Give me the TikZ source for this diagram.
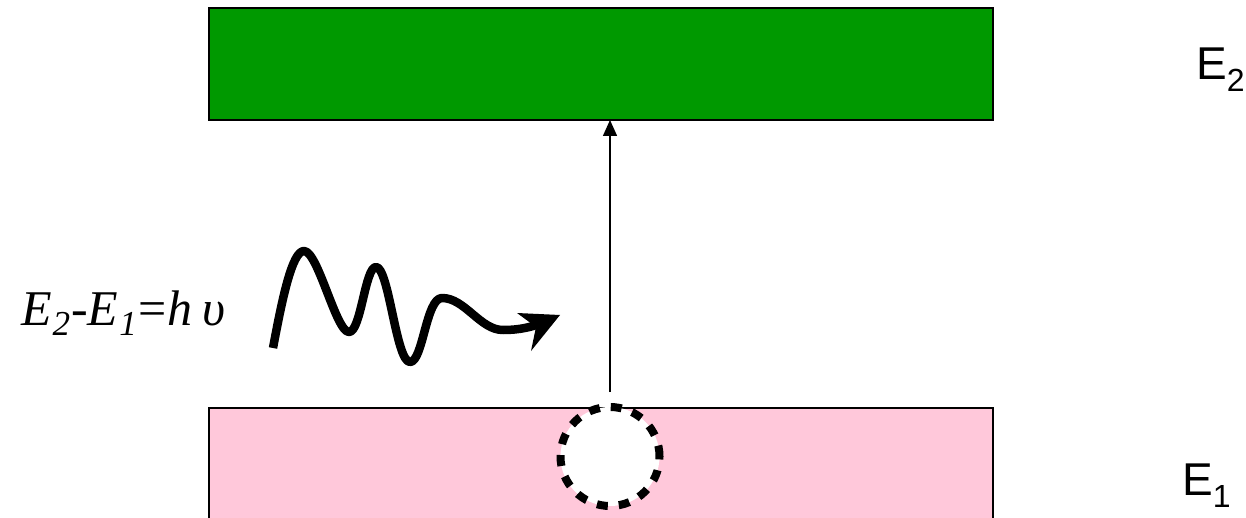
\documentclass[tikz,border=0pt]{standalone}
\usepackage{fontspec}
\setmainfont{Liberation Serif}
\newfontfamily\arialfont{Liberation Sans}
\usetikzlibrary{arrows.meta}
\definecolor{bandgreen}{RGB}{0,153,0}
\definecolor{bandpink}{RGB}{255,200,218}
\tikzset{
  band/.style={draw=black, line width=1.2pt},
  levellabel/.style={anchor=base west, inner sep=0pt, font=\arialfont\fontsize{46}{50}\selectfont},
  wave/.style={line width=8.5pt, line cap=butt, line join=round},
  holecirc/.style={circle, draw=black, fill=white, line width=8pt, dash pattern=on 11pt off 11pt, minimum size=99pt, inner sep=0pt},
}
\newcommand{\lsub}[1]{\raisebox{-12pt}{\fontsize{32}{34}\selectfont #1}}
\newcommand{\fsub}[1]{\raisebox{-10pt}{\fontsize{35}{37}\selectfont #1}}
\begin{document}
\begin{tikzpicture}[x=1pt,y=-1pt]
\useasboundingbox (0,0) rectangle (1246,518);
\clip (0,0) rectangle (1246,518);
% bands
\draw[band, fill=bandgreen] (209,8) rectangle (993,120);
\draw[band, fill=bandpink] (209,408) rectangle (993,540);
\coordinate (upper) at (610,120);
% hole
\node[holecirc] (hole) at (610,456.5) {};
\coordinate (start) at (610,392);
\draw[line width=1.5pt, -{Triangle[length=16pt,width=14pt]}] (start) -- (upper);
% labels
\node[levellabel] (e2) at (1196,80) {E\lsub{2}};
\node[levellabel] (e1) at (1182,495) {E\lsub{1}};
\node[anchor=base west, inner sep=0pt, font=\fontsize{50}{54}\selectfont\itshape] (formula) at (21,325)
  {E\kern1pt\fsub{2}\kern1pt-E\kern1pt\fsub{1}\kern2pt\upshape{=}\itshape h\kern10pt υ};
% photon wave
\coordinate (w0) at (273,348);
\coordinate (w1) at (304,251);
\coordinate (w2) at (349,332);
\coordinate (w3) at (376,267);
\coordinate (w4) at (410,362);
\coordinate (w5) at (442,298);
\coordinate (w6) at (503,330);
\coordinate (w7) at (540,324);
\draw[wave] (w0) .. controls (282,300) and (292,251) .. (w1)
  .. controls (318,251) and (336,332) .. (w2)
  .. controls (361,332) and (365,267) .. (w3)
  .. controls (389,267) and (396,362) .. (w4)
  .. controls (423,362) and (426,298) .. (w5)
  .. controls (465,298) and (480,330) .. (w6)
  .. controls (520,330) and (530,327) .. (w7);
\coordinate (tip) at (560,315);
\fill (tip) -- (517,313) -- (536,327) -- (531,351) -- cycle;
\end{tikzpicture}
\end{document}
